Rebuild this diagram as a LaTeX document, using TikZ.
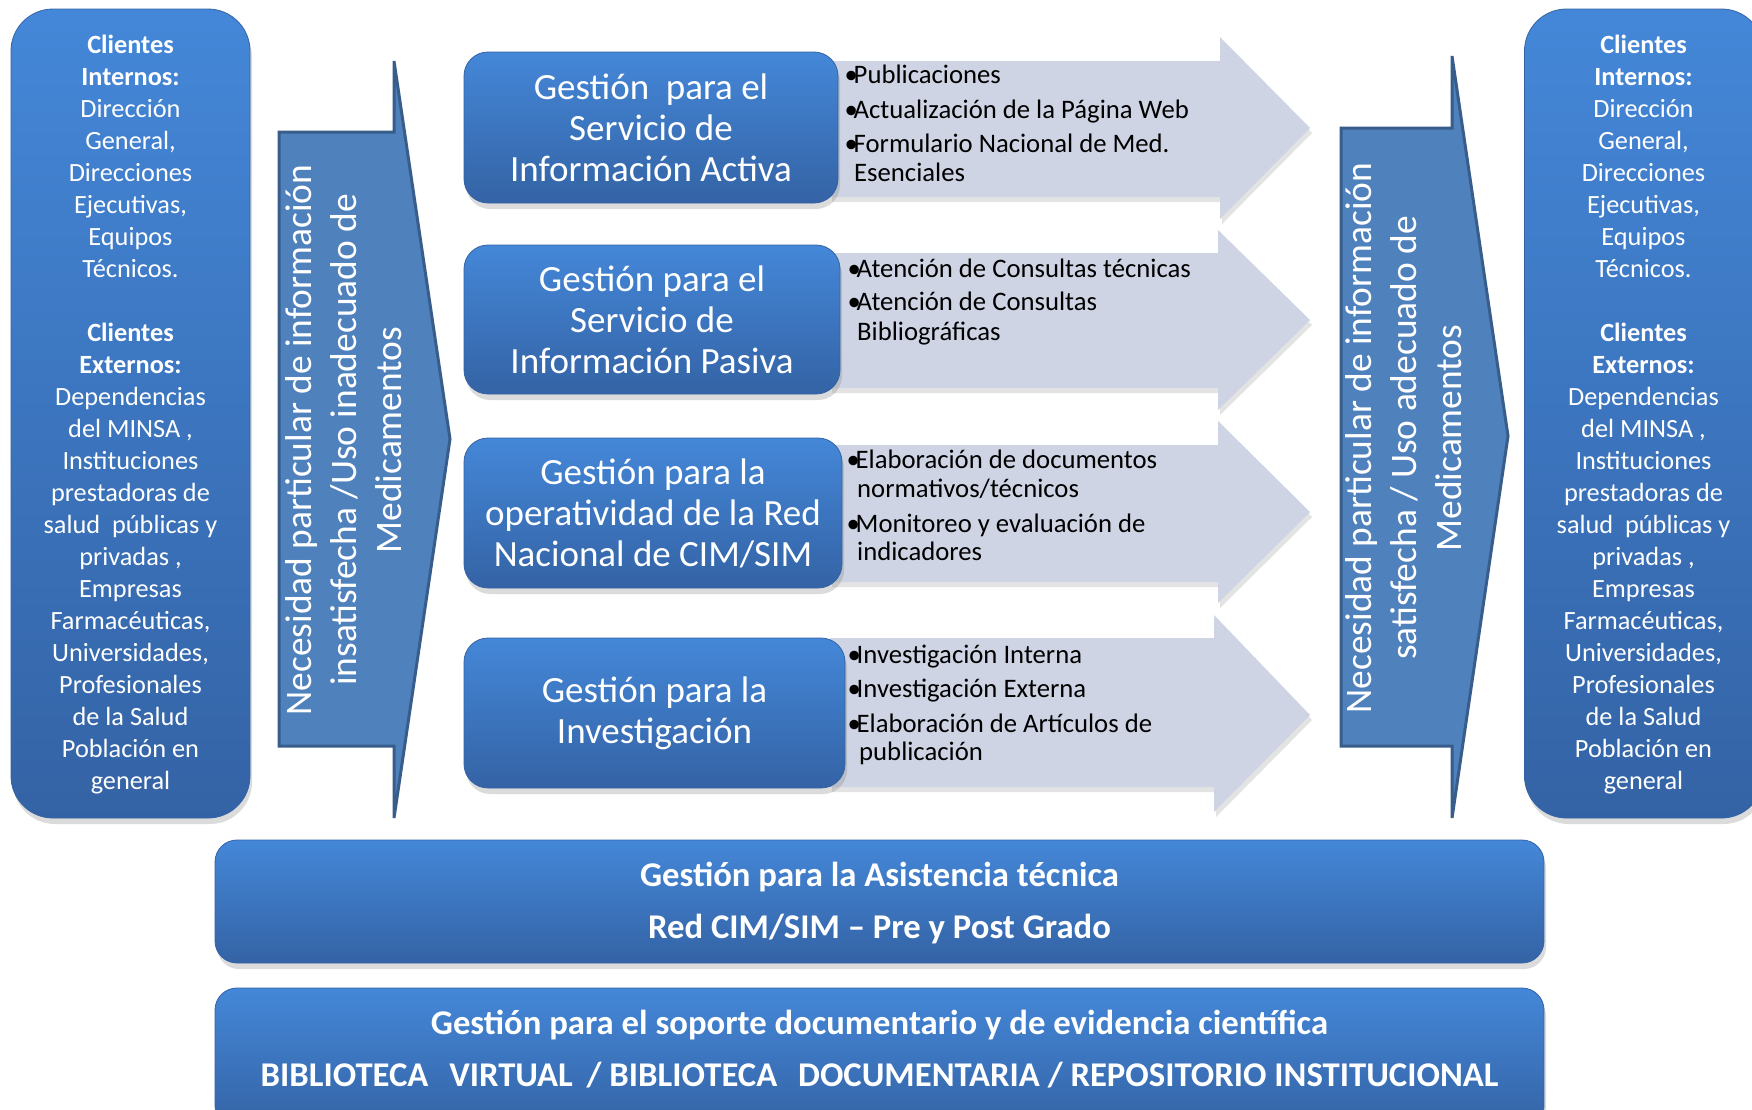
\documentclass[tikz,border=0pt]{standalone}
\usepackage{fontspec}
\setmainfont{Carlito}
\usetikzlibrary{shadows}
\definecolor{bTop}{RGB}{68,135,216}
\definecolor{bBot}{RGB}{52,99,165}
\definecolor{arrFill}{RGB}{79,129,189}
\definecolor{arrLine}{RGB}{56,93,138}
\definecolor{greyA}{RGB}{206,212,227}
\newcommand{\bul}{\makebox[8.5pt][l]{\kern-0.6pt•}}
\tikzset{
  bluebox/.style={top color=bTop, bottom color=bBot, draw=bBot, line width=0.8pt,
    drop shadow={opacity=0.28, shadow xshift=2pt, shadow yshift=-6pt},
    inner sep=0pt, text=white, align=center},
  procbox/.style={bluebox, rounded corners=24pt, font=\fontsize{37}{41}\selectfont},
  clientbox/.style={bluebox, rounded corners=42pt, minimum width=239pt, minimum height=809pt},
  barbox/.style={bluebox, rounded corners=22pt, minimum width=1329pt},
  clienttext/.style={text=white, align=center, inner sep=0pt, font=\fontsize{26.3}{32}\selectfont},
  vtext/.style={text=white, align=center, inner sep=0pt, rotate=90, font=\fontsize{37.4}{45}\selectfont},
  bullet/.style={anchor=base west, inner sep=0pt, text=black, font=\fontsize{26.7}{29}\selectfont},
  bartext/.style={anchor=base, inner sep=0pt, text=white, font=\fontsize{34.7}{40}\selectfont\bfseries},
  greyarrow/.style={fill=greyA, drop shadow={opacity=0.22, shadow xshift=2pt, shadow yshift=-5pt}},
  bigarrow/.style={fill=arrFill, draw=arrLine, line width=3pt, line join=miter}
}
\begin{document}
\begin{tikzpicture}[x=1pt, y=-1pt]
\useasboundingbox (0,0) rectangle (1752,1109);
\fill[white] (0,0) rectangle (1752,1109);

% client boxes
\node[clientbox] (cl) at (130.5,413.5) {};
\node[clientbox] (cr) at (1644,413.5) {};
\node[clienttext] (clt) at (130.5,415) {\textbf{Clientes}\\\textbf{Internos:}\\Dirección\\General,\\Direcciones\\Ejecutivas,\\Equipos\\Técnicos.\\[32pt]\textbf{Clientes}\\\textbf{Externos:}\\Dependencias\\del MINSA ,\\Instituciones\\prestadoras de\\salud\ \ públicas y\\privadas ,\\Empresas\\Farmacéuticas,\\Universidades,\\Profesionales\\de la Salud\\Población en\\general};
\node[clienttext] (crt) at (1643.5,415) {\textbf{Clientes}\\\textbf{Internos:}\\Dirección\\General,\\Direcciones\\Ejecutivas,\\Equipos\\Técnicos.\\[32pt]\textbf{Clientes}\\\textbf{Externos:}\\Dependencias\\del MINSA ,\\Instituciones\\prestadoras de\\salud\ \ públicas y\\privadas ,\\Empresas\\Farmacéuticas,\\Universidades,\\Profesionales\\de la Salud\\Población en\\general};

% big vertical arrows
\draw[bigarrow] (279,132) -- (394,132) -- (394,61) -- (450,439) -- (394,818) -- (394,746) -- (279,746) -- cycle;
\draw[bigarrow] (1341,128) -- (1452,128) -- (1452,56) -- (1508,436) -- (1452,818) -- (1452,746) -- (1341,746) -- cycle;
\node[vtext] (vl) at (344,440) {Necesidad particular de información\\insatisfecha /Uso inadecuado de\\Medicamentos};
\node[vtext] (vr) at (1404,438) {Necesidad particular de información\\satisfecha / Uso adecuado de\\Medicamentos};

% grey arrows
\path[greyarrow] (830,61) -- (1220,61) -- (1220,37) -- (1310,128) -- (1220,219) -- (1220,197) -- (830,197) -- cycle;
\path[greyarrow] (830,253) -- (1218,253) -- (1218,230) -- (1310,320) -- (1218,410) -- (1218,388) -- (830,388) -- cycle;
\path[greyarrow] (830,445) -- (1218,445) -- (1218,421) -- (1310,512) -- (1218,603) -- (1218,582) -- (830,582) -- cycle;
\path[greyarrow] (830,638) -- (1214,638) -- (1214,615) -- (1310,715) -- (1214,812) -- (1214,787) -- (830,787) -- cycle;

% process boxes
\node[procbox, minimum width=374pt, minimum height=151pt] (p1) at (651,127.5) {Gestión\ \ para el\\Servicio de\\Información Activa};
\node[procbox, minimum width=376pt, minimum height=149pt] (p2) at (652,319.5) {Gestión para el\\Servicio de\\Información Pasiva};
\node[procbox, minimum width=378pt, minimum height=150pt] (p3) at (653,513) {Gestión para la\\operatividad de la Red\\Nacional de CIM/SIM};
\node[procbox, minimum width=381pt, minimum height=150pt] (p4) at (654.5,713) {Gestión para la\\Investigación};

% bullets
\node[bullet] (b11) at (845,83) {\bul Publicaciones};
\node[bullet] (b12) at (845,118) {\bul Actualización de la Página Web};
\node[bullet] (b13) at (845,152) {\bul Formulario Nacional de Med.};
\node[bullet] (b14) at (854,181) {Esenciales};
\node[bullet] (b21) at (848,277) {\bul Atención de Consultas técnicas};
\node[bullet] (b22) at (848,310) {\bul Atención de Consultas};
\node[bullet] (b23) at (857,340) {Bibliográficas};
\node[bullet] (b31) at (847,468) {\bul Elaboración de documentos};
\node[bullet] (b32) at (857,497) {normativos/técnicos};
\node[bullet] (b33) at (847,532) {\bul Monitoreo y evaluación de};
\node[bullet] (b34) at (857,560) {indicadores};
\node[bullet] (b41) at (848,663) {\bul Investigación Interna};
\node[bullet] (b42) at (848,697) {\bul Investigación Externa};
\node[bullet] (b43) at (848,732) {\bul Elaboración de Artículos de};
\node[bullet] (b44) at (859,760) {publicación};

% bottom bars
\node[barbox, minimum height=123pt] (bar1) at (879.5,901.5) {};
\node[barbox, minimum height=140pt] (bar2) at (879.5,1058) {};
\node[bartext] (t11) at (879.5,886) {Gestión para la Asistencia técnica};
\node[bartext] (t12) at (879.5,938) {Red CIM/SIM – Pre y Post Grado};
\node[bartext] (t21) at (879.5,1034) {Gestión para el soporte documentario y de evidencia científica};
\node[bartext] (t22) at (879.5,1086) {BIBLIOTECA\hspace{0.6em}VIRTUAL\hspace{0.4em}/ BIBLIOTECA\hspace{0.6em}DOCUMENTARIA / REPOSITORIO INSTITUCIONAL};
\end{tikzpicture}
\end{document}
